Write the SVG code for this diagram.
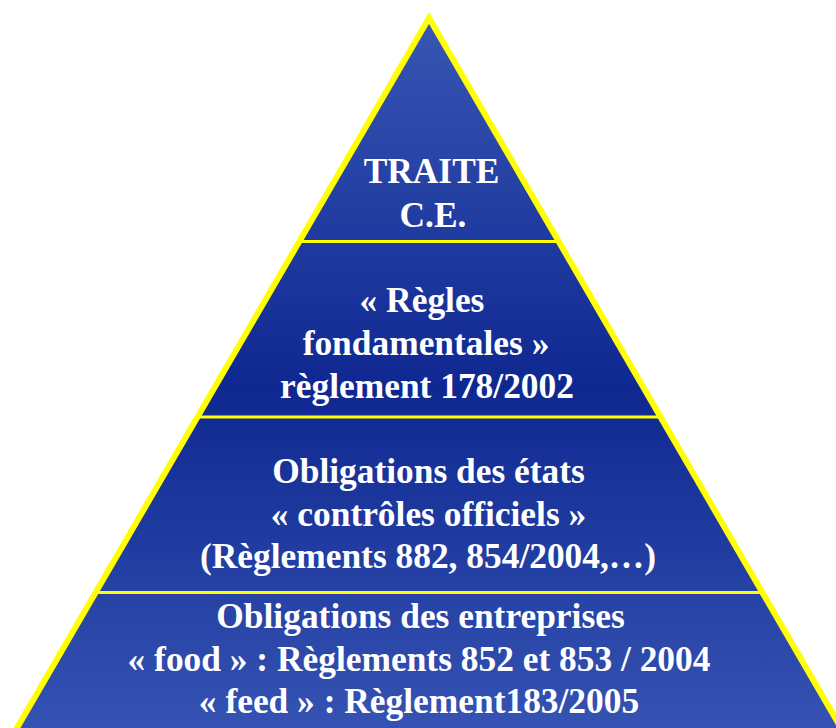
<svg xmlns="http://www.w3.org/2000/svg" width="836" height="728" viewBox="0 0 836 728">
<style>
.t{font-family:"Liberation Serif","Times New Roman",serif;font-weight:bold;font-size:35.4px;fill:#ffffff;text-anchor:middle}
.div{stroke:#ffff00;stroke-width:3}
</style>
<defs>
<linearGradient id="g" gradientUnits="userSpaceOnUse" x1="0" y1="18" x2="0" y2="728">
<stop offset="0" stop-color="#3856b4"/>
<stop offset="0.52" stop-color="#0f2891"/>
<stop offset="1" stop-color="#3553b2"/>
</linearGradient>
</defs>
<rect width="836" height="728" fill="#ffffff"/>
<g id="pyramid">
<path d="M429,18 L10,740 L848,740 Z" fill="url(#g)" stroke="#ffff00" stroke-width="6" stroke-linejoin="miter"/>
</g>
<g id="dividers">
<line class="div" x1="300" y1="241.5" x2="558" y2="241.5"/>
<line class="div" x1="198" y1="417" x2="660" y2="417"/>
<line class="div" x1="96" y1="592.5" x2="762" y2="592.5"/>
</g>
<g id="level1">
<text class="t" x="431.5" y="183">TRAITE</text>
<text class="t" x="433" y="227">C.E.</text>
</g>
<g id="level2">
<text class="t" x="422" y="312">« Règles</text>
<text class="t" x="426" y="355">fondamentales »</text>
<text class="t" x="427" y="398">règlement 178/2002</text>
</g>
<g id="level3">
<text class="t" x="428.5" y="483">Obligations des états</text>
<text class="t" x="428.5" y="526">« contrôles officiels »</text>
<text class="t" x="428" y="568">(Règlements 882, 854/2004,…)</text>
</g>
<g id="level4">
<text class="t" x="420.5" y="628">Obligations des entreprises</text>
<text class="t" x="419" y="671">« food » : Règlements 852 et 853 / 2004</text>
<text class="t" x="419" y="713">« feed » : Règlement183/2005</text>
</g>
</svg>
